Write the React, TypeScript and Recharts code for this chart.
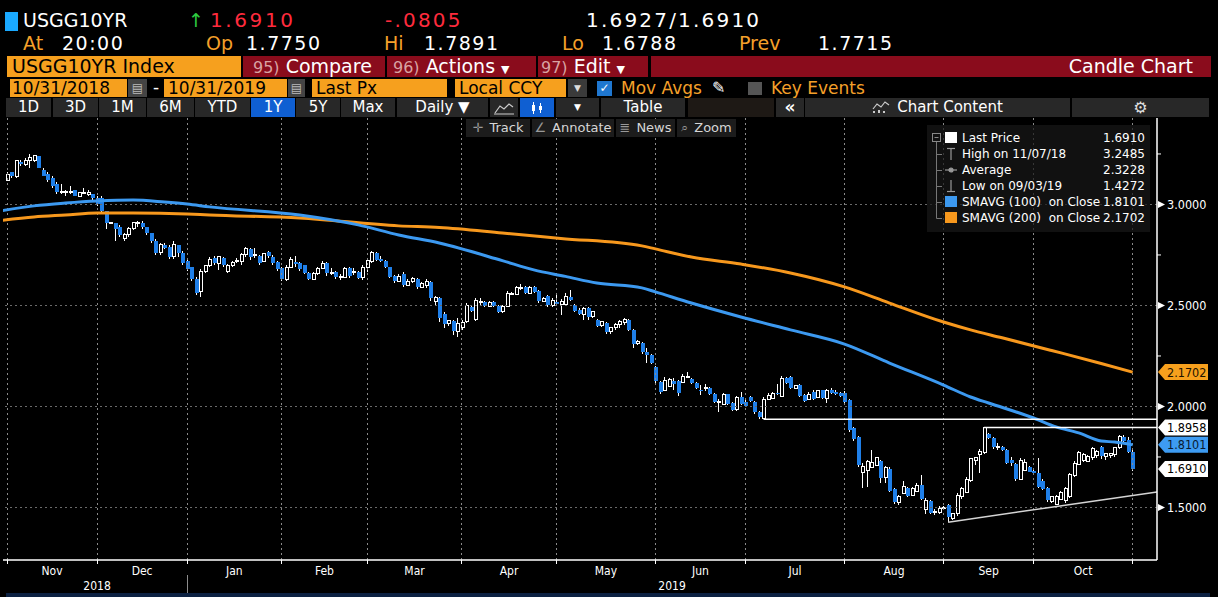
import { ComposedChart, Bar, Line, XAxis, YAxis, ReferenceLine } from 'recharts';

// [open, high, low, close], one array per month
type Candle = [number, number, number, number];

const oct2018: Candle[] = [[3.12, 3.16, 3.12, 3.15]];
const nov2018: Candle[] = [
  [3.16, 3.16, 3.13, 3.14], [3.14, 3.22, 3.13, 3.22], [3.21, 3.22, 3.19, 3.2], [3.2, 3.23, 3.19, 3.22],
  [3.22, 3.2485, 3.18, 3.23], [3.22, 3.24, 3.21, 3.24], [3.24, 3.24, 3.18, 3.18], [3.17, 3.18, 3.14, 3.14],
  [3.15, 3.16, 3.11, 3.12], [3.13, 3.14, 3.08, 3.09], [3.1, 3.11, 3.05, 3.06], [3.06, 3.1, 3.05, 3.063],
  [3.06, 3.07, 3.04, 3.062], [3.06, 3.09, 3.05, 3.065], [3.07, 3.07, 3.04, 3.04], [3.04, 3.06, 3.035, 3.06],
  [3.055, 3.08, 3.05, 3.06], [3.05, 3.07, 3.04, 3.06], [3.05, 3.05, 3.02, 3.03], [3.03, 3.04, 2.99, 3.0],
];
const dec2018: Candle[] = [
  [3.03, 3.04, 2.96, 2.97], [2.97, 2.97, 2.88, 2.91], [2.91, 2.915, 2.905, 2.912], [2.91, 2.91, 2.82, 2.88],
  [2.89, 2.9, 2.84, 2.85], [2.83, 2.86, 2.82, 2.85], [2.85, 2.89, 2.84, 2.88], [2.88, 2.91, 2.875, 2.91],
  [2.905, 2.92, 2.89, 2.91], [2.91, 2.92, 2.88, 2.89], [2.89, 2.89, 2.85, 2.86], [2.86, 2.86, 2.81, 2.82],
  [2.82, 2.83, 2.75, 2.76], [2.76, 2.81, 2.75, 2.8], [2.8, 2.81, 2.78, 2.785], [2.79, 2.8, 2.73, 2.74],
  [2.74, 2.82, 2.73, 2.8], [2.8, 2.8, 2.74, 2.76], [2.76, 2.77, 2.7, 2.71], [2.72, 2.73, 2.67, 2.68],
];
const jan2019: Candle[] = [
  [2.69, 2.69, 2.62, 2.63], [2.63, 2.64, 2.55, 2.56], [2.57, 2.68, 2.54, 2.67], [2.67, 2.7, 2.66, 2.7],
  [2.7, 2.74, 2.69, 2.73], [2.735, 2.745, 2.7, 2.71], [2.71, 2.745, 2.675, 2.74], [2.735, 2.74, 2.69, 2.7],
  [2.67, 2.705, 2.66, 2.7], [2.7, 2.72, 2.69, 2.715], [2.72, 2.735, 2.71, 2.725], [2.72, 2.76, 2.7, 2.75],
  [2.75, 2.79, 2.74, 2.78], [2.78, 2.785, 2.725, 2.74], [2.745, 2.785, 2.735, 2.75], [2.745, 2.75, 2.7, 2.71],
  [2.72, 2.76, 2.715, 2.755], [2.765, 2.77, 2.735, 2.745], [2.74, 2.75, 2.7, 2.71], [2.715, 2.72, 2.67, 2.68],
  [2.685, 2.69, 2.62, 2.63],
];
const feb2019: Candle[] = [
  [2.63, 2.7, 2.62, 2.69], [2.69, 2.74, 2.685, 2.73], [2.715, 2.745, 2.69, 2.705], [2.71, 2.715, 2.67, 2.68],
  [2.7, 2.7, 2.655, 2.66], [2.66, 2.665, 2.625, 2.63], [2.63, 2.665, 2.625, 2.66], [2.66, 2.69, 2.65, 2.685],
  [2.685, 2.72, 2.68, 2.71], [2.71, 2.715, 2.645, 2.66], [2.66, 2.685, 2.65, 2.665], [2.665, 2.67, 2.63, 2.64],
  [2.64, 2.655, 2.625, 2.645], [2.64, 2.69, 2.635, 2.685], [2.685, 2.69, 2.635, 2.645], [2.665, 2.685, 2.65, 2.67],
  [2.665, 2.67, 2.63, 2.635], [2.64, 2.7, 2.625, 2.69], [2.69, 2.735, 2.665, 2.725],
];
const mar2019: Candle[] = [
  [2.72, 2.77, 2.71, 2.76], [2.76, 2.765, 2.72, 2.725], [2.73, 2.745, 2.715, 2.72], [2.72, 2.725, 2.685, 2.69],
  [2.69, 2.69, 2.635, 2.64], [2.645, 2.65, 2.61, 2.62], [2.62, 2.655, 2.615, 2.645], [2.655, 2.665, 2.59, 2.6],
  [2.6, 2.63, 2.595, 2.62], [2.62, 2.64, 2.61, 2.635], [2.63, 2.635, 2.58, 2.59], [2.59, 2.615, 2.585, 2.61],
  [2.6, 2.63, 2.585, 2.62], [2.615, 2.62, 2.52, 2.535], [2.52, 2.545, 2.5, 2.54], [2.535, 2.54, 2.42, 2.44],
  [2.46, 2.47, 2.39, 2.41], [2.41, 2.43, 2.4, 2.425], [2.425, 2.43, 2.355, 2.375], [2.37, 2.44, 2.345, 2.41],
  [2.39, 2.43, 2.38, 2.415],
];
const apr2019: Candle[] = [
  [2.42, 2.51, 2.415, 2.5], [2.49, 2.495, 2.47, 2.475], [2.43, 2.535, 2.425, 2.525], [2.515, 2.535, 2.495, 2.52],
  [2.515, 2.52, 2.49, 2.495], [2.495, 2.52, 2.49, 2.515], [2.515, 2.52, 2.49, 2.495], [2.495, 2.5, 2.465, 2.47],
  [2.47, 2.5, 2.465, 2.495], [2.495, 2.57, 2.49, 2.56], [2.555, 2.565, 2.55, 2.56], [2.555, 2.595, 2.55, 2.59],
  [2.585, 2.605, 2.575, 2.59], [2.59, 2.595, 2.555, 2.56], [2.56, 2.595, 2.555, 2.59], [2.59, 2.595, 2.56, 2.565],
  [2.57, 2.575, 2.51, 2.52], [2.52, 2.54, 2.515, 2.535], [2.545, 2.55, 2.49, 2.5], [2.5, 2.535, 2.49, 2.525],
  [2.515, 2.555, 2.5, 2.505],
];
const may2019: Candle[] = [
  [2.505, 2.53, 2.455, 2.52], [2.505, 2.56, 2.5, 2.545], [2.54, 2.575, 2.52, 2.525], [2.5, 2.505, 2.47, 2.475],
  [2.48, 2.485, 2.455, 2.46], [2.455, 2.49, 2.43, 2.485], [2.485, 2.49, 2.43, 2.445], [2.445, 2.475, 2.44, 2.47],
  [2.43, 2.435, 2.395, 2.4], [2.4, 2.425, 2.395, 2.42], [2.415, 2.42, 2.36, 2.37], [2.37, 2.395, 2.36, 2.39],
  [2.39, 2.415, 2.38, 2.405], [2.405, 2.43, 2.39, 2.42], [2.415, 2.44, 2.405, 2.43], [2.43, 2.435, 2.375, 2.38],
  [2.38, 2.385, 2.29, 2.31], [2.31, 2.33, 2.305, 2.32], [2.315, 2.32, 2.26, 2.27], [2.27, 2.29, 2.215, 2.255],
  [2.255, 2.26, 2.21, 2.215], [2.195, 2.2, 2.115, 2.125],
];
const jun2019: Candle[] = [
  [2.12, 2.125, 2.06, 2.07], [2.08, 2.145, 2.075, 2.13], [2.1, 2.14, 2.095, 2.135], [2.128, 2.14, 2.08, 2.11],
  [2.125, 2.13, 2.05, 2.065], [2.12, 2.16, 2.115, 2.15], [2.145, 2.172, 2.14, 2.148], [2.135, 2.14, 2.11, 2.115],
  [2.118, 2.12, 2.085, 2.09], [2.083, 2.106, 2.057, 2.078], [2.09, 2.11, 2.078, 2.096], [2.09, 2.095, 2.055, 2.06],
  [2.06, 2.065, 2.015, 2.02], [2.02, 2.035, 1.975, 2.025], [2.01, 2.065, 2.005, 2.06], [2.06, 2.062, 2.005, 2.01],
  [2.015, 2.02, 1.98, 1.985], [1.985, 2.05, 1.98, 2.045], [2.045, 2.07, 2.005, 2.01], [2.02, 2.03, 1.998, 2.003],
];
const jul2019: Candle[] = [
  [2.045, 2.05, 2.02, 2.025], [2.02, 2.025, 1.965, 1.975], [1.975, 1.98, 1.94, 1.95], [1.94, 2.045, 1.9367, 2.035],
  [2.035, 2.065, 2.03, 2.055], [2.04, 2.07, 2.035, 2.065], [2.065, 2.11, 2.055, 2.06], [2.05, 2.15, 2.045, 2.14],
  [2.14, 2.145, 2.11, 2.115], [2.145, 2.15, 2.085, 2.09], [2.088, 2.106, 2.085, 2.104], [2.105, 2.11, 2.045, 2.05],
  [2.055, 2.06, 2.02, 2.025], [2.035, 2.07, 2.03, 2.06], [2.07, 2.08, 2.03, 2.035], [2.045, 2.082, 2.04, 2.08],
  [2.08, 2.082, 2.035, 2.04], [2.04, 2.085, 2.015, 2.08], [2.08, 2.09, 2.06, 2.065], [2.072, 2.08, 2.055, 2.06],
  [2.065, 2.07, 2.045, 2.05], [2.065, 2.075, 2.01, 2.02],
];
const aug2019: Candle[] = [
  [2.03, 2.035, 1.875, 1.885], [1.895, 1.9, 1.83, 1.84], [1.85, 1.855, 1.7, 1.71], [1.675, 1.72, 1.595, 1.705],
  [1.685, 1.735, 1.6, 1.73], [1.7, 1.787, 1.695, 1.722], [1.71, 1.752, 1.705, 1.745], [1.73, 1.735, 1.62, 1.645],
  [1.65, 1.705, 1.62, 1.7], [1.69, 1.7, 1.575, 1.58], [1.59, 1.595, 1.515, 1.525], [1.525, 1.56, 1.51, 1.555],
  [1.57, 1.63, 1.565, 1.605], [1.595, 1.6, 1.55, 1.555], [1.56, 1.6, 1.555, 1.595], [1.58, 1.62, 1.575, 1.61],
  [1.61, 1.66, 1.535, 1.54], [1.49, 1.545, 1.47, 1.535], [1.53, 1.535, 1.47, 1.475], [1.48, 1.49, 1.462, 1.482],
  [1.475, 1.505, 1.468, 1.495], [1.497, 1.505, 1.49, 1.5],
];
const sep2019: Candle[] = [
  [1.51, 1.515, 1.4272, 1.455], [1.445, 1.475, 1.44, 1.47], [1.47, 1.57, 1.46, 1.56], [1.555, 1.6, 1.54, 1.595],
  [1.575, 1.65, 1.57, 1.64], [1.635, 1.745, 1.625, 1.74], [1.735, 1.752, 1.71, 1.745], [1.76, 1.79, 1.672, 1.778],
  [1.77, 1.8958, 1.765, 1.895], [1.865, 1.87, 1.84, 1.845], [1.845, 1.85, 1.79, 1.8], [1.8, 1.82, 1.785, 1.802],
  [1.8, 1.805, 1.78, 1.783], [1.785, 1.79, 1.715, 1.72], [1.735, 1.75, 1.705, 1.722], [1.715, 1.72, 1.63, 1.64],
  [1.64, 1.745, 1.635, 1.735], [1.685, 1.74, 1.68, 1.725], [1.7, 1.705, 1.675, 1.678], [1.68, 1.69, 1.665, 1.67],
];
const oct2019: Candle[] = [
  [1.67, 1.745, 1.595, 1.6], [1.63, 1.64, 1.585, 1.59], [1.595, 1.6, 1.525, 1.535], [1.53, 1.557, 1.52, 1.555],
  [1.515, 1.562, 1.51, 1.555], [1.54, 1.58, 1.535, 1.575], [1.535, 1.6, 1.52, 1.595], [1.555, 1.67, 1.545, 1.665],
  [1.66, 1.73, 1.65, 1.72], [1.715, 1.78, 1.71, 1.77], [1.735, 1.77, 1.725, 1.76], [1.73, 1.76, 1.725, 1.75],
  [1.745, 1.8, 1.735, 1.79], [1.755, 1.785, 1.745, 1.775], [1.8, 1.805, 1.74, 1.755], [1.75, 1.77, 1.735, 1.765],
  [1.755, 1.77, 1.745, 1.765], [1.76, 1.8, 1.75, 1.795], [1.795, 1.86, 1.79, 1.85], [1.85, 1.86, 1.825, 1.83],
  [1.835, 1.85, 1.77, 1.775], [1.775, 1.7891, 1.6788, 1.691],
];

// first entry is the lone 31 Oct 2018 bar, the rest are the labelled months
const candleMonths = [oct2018, nov2018, dec2018, jan2019, feb2019, mar2019, apr2019, may2019, jun2019, jul2019, aug2019, sep2019, oct2019];
const monthLabels = ['Nov', 'Dec', 'Jan', 'Feb', 'Mar', 'Apr', 'May', 'Jun', 'Jul', 'Aug', 'Sep', 'Oct'];
const yearLabels = ['2018', '2019'];
const yearFirstMonth = [0, 2];

// moving averages: [bar index, value]
const sma100: [number, number][] = [
  [-1, 2.97], [6, 2.993], [13, 3.007], [20, 3.017], [28, 3.022], [35, 3.012], [40, 3.002], [45, 2.988],
  [65, 2.948], [78, 2.899], [87, 2.849], [96, 2.809], [110, 2.722], [117, 2.676], [124, 2.644], [131, 2.611],
  [141, 2.587], [144, 2.567], [152, 2.512], [163, 2.443], [174, 2.379], [186, 2.309], [196, 2.215], [208, 2.106],
  [214, 2.047], [218, 2.017], [228, 1.943], [233, 1.899], [238, 1.869], [243, 1.829], [246, 1.824], [250, 1.81],
];
const sma200: [number, number][] = [
  [-1, 2.922], [6, 2.938], [13, 2.948], [20, 2.958], [28, 2.958], [40, 2.953], [45, 2.948], [65, 2.933],
  [87, 2.894], [96, 2.886], [110, 2.859], [123, 2.832], [141, 2.795], [144, 2.78], [152, 2.74], [163, 2.705],
  [174, 2.661], [186, 2.592], [196, 2.512], [208, 2.418], [214, 2.379], [221, 2.34], [232, 2.277], [243, 2.213],
  [250, 2.17],
];

// drawn annotations: [start bar, level] and trend line end points
const levelLines: [number, number][] = [[168, 1.9367], [217, 1.8958]];
const trendLine: [number, number][] = [[209, 1.4272], [255.4, 1.577]];

const majorLevels = [1.5, 2.0, 2.5, 3.0];
const minorLevels = [1.75, 2.25, 2.75, 3.25];
const priceFlags = [
  { value: 2.1702, fill: '#f7a01d', text: '#1c1200' },
  { value: 1.8958, fill: '#ffffff', text: '#000000' },
  { value: 1.8101, fill: '#3d9bf2', text: '#0a1a30' },
  { value: 1.691, fill: '#ffffff', text: '#000000' },
];

const legendRows = [
  { icon: 'box', color: '#ffffff', label: 'Last Price', value: '1.6910' },
  { icon: 'high', color: '#9a9a9a', label: 'High on 11/07/18', value: '3.2485' },
  { icon: 'avg', color: '#9a9a9a', label: 'Average', value: '2.3228' },
  { icon: 'low', color: '#9a9a9a', label: 'Low on 09/03/19', value: '1.4272' },
  { icon: 'box', color: '#3c99f0', label: 'SMAVG (100)  on Close', value: '1.8101' },
  { icon: 'box', color: '#f7981d', label: 'SMAVG (200)  on Close', value: '2.1702' },
];

const X_MIN = -0.89;
const X_MAX = 255.4;
const Y_MIN = 1.24;
const Y_MAX = 3.428;

const DOWN = '#1f7fe8';
const SMA100_COLOR = '#3c99f0';
const SMA200_COLOR = '#f7981d';
const GRID = '#6a6a6a';
const VGRID = '#8a8a8a';
const ORANGE = '#f6a01e';
const ORANGE_TEXT = '#f5a02a';
const RED = '#8a0c1c';
const SANS = "'DejaVu Sans', sans-serif";
const NARROW = "'DejaVu Sans Condensed', 'DejaVu Sans', sans-serif";

const candles = candleMonths.flat().map(([o, h, l, c], i) => ({ i, o, h, l, c }));
let acc = -1;
const monthEnds = candleMonths.map((m) => (acc += m.length));
const monthMids = monthLabels.map((_, k) => (monthEnds[k] + monthEnds[k + 1]) / 2);
const yearMids = yearFirstMonth.map((m, k) => {
  const end = k + 1 < yearFirstMonth.length ? monthEnds[yearFirstMonth[k + 1]] : X_MAX;
  return (monthEnds[m] + end) / 2;
});
const sma100Data = sma100.map(([i, v]) => ({ i, v }));
const sma200Data = sma200.map(([i, v]) => ({ i, v }));
const yTicks = [...majorLevels, ...minorLevels, ...priceFlags.map((f) => f.value)];

function CandleShape(props: any) {
  const { x, y, width, height, payload } = props;
  if (x == null || y == null || !payload) return null;
  const { o, h, l, c } = payload;
  const top = Math.min(y, y + height);
  const span = Math.abs(height);
  const k = h > l ? span / (h - l) : 0;
  const cx = Math.round(x + width / 2);
  const yTop = top + (h - Math.max(o, c)) * k;
  const yBot = top + (h - Math.min(o, c)) * k;
  const bodyH = Math.max(yBot - yTop, 1);
  const up = c >= o;
  return (
    <g shapeRendering="crispEdges">
      <line x1={cx + 0.5} x2={cx + 0.5} y1={top} y2={top + span} stroke="#fff" strokeWidth={1} />
      {up ? (
        <rect x={cx - 1} y={yTop} width={3} height={bodyH} fill="#000" stroke="#fff" strokeWidth={1} />
      ) : (
        <rect x={cx - 1.5} y={yTop} width={4} height={bodyH} fill={DOWN} />
      )}
    </g>
  );
}

function PriceTick(props: any) {
  const { x, y, payload } = props;
  const v = payload?.value;
  const flag = priceFlags.find((f) => Math.abs(f.value - v) < 1e-6);
  if (flag) {
    return (
      <g>
        <polygon
          points={`${x + 1},${y} ${x + 8},${y - 8} ${x + 51},${y - 8} ${x + 51},${y + 8} ${x + 8},${y + 8}`}
          fill={flag.fill}
        />
        <text x={x + 10} y={y + 4.5} fill={flag.text} fontSize={12.5} style={{ fontFamily: NARROW, fontStretch: 'condensed' }}>
          {flag.value.toFixed(4)}
        </text>
      </g>
    );
  }
  if (majorLevels.some((m) => Math.abs(m - v) < 1e-6)) {
    return (
      <g>
        <polygon points={`${x + 1},${y - 3.5} ${x + 8},${y} ${x + 1},${y + 3.5}`} fill="#fff" />
        <text x={x + 10} y={y + 4.5} fill="#fff" fontSize={12.5} style={{ fontFamily: NARROW, fontStretch: 'condensed' }}>
          {v.toFixed(4)}
        </text>
      </g>
    );
  }
  return <line x1={x} x2={x + 4} y1={y} y2={y} stroke="#fff" />;
}

function BoundaryMark(props: any) {
  const vb = props.viewBox;
  if (!vb) return null;
  const yb = vb.y + vb.height;
  return <line x1={vb.x} x2={vb.x} y1={yb} y2={yb + 4} stroke="#fff" shapeRendering="crispEdges" />;
}

function YearText(props: any) {
  const vb = props.viewBox;
  if (!vb) return null;
  return (
    <text x={vb.x} y={vb.y + vb.height + 30} fill="#fff" fontSize={12} textAnchor="middle" style={{ fontFamily: NARROW, fontStretch: 'condensed' }}>
      {props.text}
    </text>
  );
}

function YearSeparator(props: any) {
  const vb = props.viewBox;
  if (!vb) return null;
  const yb = vb.y + vb.height;
  return <line x1={vb.x} x2={vb.x} y1={yb + 15} y2={yb + 37} stroke="#8c8c8c" shapeRendering="crispEdges" />;
}

function Txt({ x, y, color = '#fff', size = 20, h = 24, ls = 0, children }: any) {
  return (
    <div
      style={{
        position: 'absolute', left: x, top: y, height: h, lineHeight: `${h}px`, color, fontSize: size,
        letterSpacing: ls, whiteSpace: 'pre', fontFamily: SANS,
      }}
    >
      {children}
    </div>
  );
}

function Box({ x, y, w, h, bg, children, color = '#fff', size = 16, align = 'center', pad = 0 }: any) {
  return (
    <div
      style={{
        position: 'absolute', left: x, top: y, width: w, height: h, background: bg, color, fontSize: size,
        lineHeight: `${h}px`, textAlign: align, paddingLeft: pad, boxSizing: 'border-box', whiteSpace: 'pre',
        fontFamily: SANS, overflow: 'hidden',
      }}
    >
      {children}
    </div>
  );
}

function LegendIcon({ type, color }: { type: string; color: string }) {
  if (type === 'box') return <rect x={0} y={2} width={12} height={11} fill={color} />;
  if (type === 'high')
    return (
      <g stroke={color} strokeWidth={1.2}>
        <line x1={2} x2={10} y1={2.5} y2={2.5} />
        <line x1={6} x2={6} y1={2.5} y2={14} />
      </g>
    );
  if (type === 'low')
    return (
      <g stroke={color} strokeWidth={1.2}>
        <line x1={2} x2={10} y1={13.5} y2={13.5} />
        <line x1={6} x2={6} y1={2} y2={13.5} />
      </g>
    );
  return (
    <g stroke={color} strokeWidth={1.2}>
      <line x1={0} x2={12} y1={8} y2={8} />
      <circle cx={6} cy={8} r={2} fill={color} />
    </g>
  );
}

export default function App() {
  const rangeButtons: [string, number, number][] = [
    ['1D', 6, 51], ['3D', 53, 98], ['1M', 99, 146], ['6M', 147, 194], ['YTD', 195, 250],
    ['1Y', 251, 295], ['5Y', 296, 340], ['Max', 341, 395],
  ];
  const chartTools: [string, string, number, number][] = [
    ['\u271B', 'Track', 466, 530], ['\u2220', 'Annotate', 532, 614], ['\u2263', 'News', 616, 675], ['\u2315', 'Zoom', 677, 736],
  ];

  return (
    <div style={{ position: 'absolute', left: 0, top: 0, width: 1218, height: 597, background: '#000', overflow: 'hidden', fontFamily: SANS }}>
      <div style={{ position: 'absolute', left: 0, top: 0 }}>
        <ComposedChart width={1218} height={597} data={candles} margin={{ top: 118, right: 0, bottom: 0, left: 3 }}>
          <XAxis
            xAxisId="x"
            dataKey="i"
            type="number"
            domain={[X_MIN, X_MAX]}
            allowDataOverflow
            ticks={monthMids}
            interval={0}
            tickFormatter={(v: number) => monthLabels[monthMids.indexOf(v)] ?? ''}
            tick={{ fill: '#fff', fontSize: 12, fontFamily: NARROW, fontStretch: 'condensed' } as any}
            tickLine={false}
            tickSize={0}
            tickMargin={6}
            axisLine={{ stroke: '#fff', strokeWidth: 1.5 }}
            height={37}
          />
          <YAxis
            yAxisId="y"
            orientation="right"
            type="number"
            domain={[Y_MIN, Y_MAX]}
            allowDataOverflow
            ticks={yTicks}
            interval={0}
            tick={<PriceTick />}
            tickLine={false}
            tickSize={0}
            tickMargin={0}
            axisLine={{ stroke: '#fff', strokeWidth: 1.5 }}
            width={61}
          />

          {majorLevels.map((v) => (
            <ReferenceLine key={`h${v}`} xAxisId="x" yAxisId="y" y={v} stroke={GRID} strokeDasharray="2 3" shapeRendering="crispEdges" />
          ))}
          {monthEnds.map((b) => (
            <ReferenceLine
              key={`v${b}`}
              xAxisId="x"
              yAxisId="y"
              x={b}
              stroke={VGRID}
              strokeWidth={1}
              strokeDasharray="2 3"
              shapeRendering="crispEdges"
              label={<BoundaryMark />}
            />
          ))}
          {yearMids.map((m, k) => (
            <ReferenceLine key={`y${k}`} xAxisId="x" yAxisId="y" x={m} stroke="#000" strokeOpacity={0} label={<YearText text={yearLabels[k]} />} />
          ))}
          <ReferenceLine xAxisId="x" yAxisId="y" x={monthEnds[yearFirstMonth[1]]} stroke="#000" strokeOpacity={0} label={<YearSeparator />} />

          <Line xAxisId="x" yAxisId="y" data={sma200Data} dataKey="v" type="monotone" stroke={SMA200_COLOR} strokeWidth={3} dot={false} activeDot={false} isAnimationActive={false} />
          <Line xAxisId="x" yAxisId="y" data={sma100Data} dataKey="v" type="monotone" stroke={SMA100_COLOR} strokeWidth={3} dot={false} activeDot={false} isAnimationActive={false} />

          <Bar xAxisId="x" yAxisId="y" dataKey={(d: any) => [d.l, d.h]} shape={CandleShape} barSize={4} isAnimationActive={false} />

          {levelLines.map(([start, level]) => (
            <ReferenceLine
              key={`l${start}`}
              xAxisId="x"
              yAxisId="y"
              segment={[{ x: start, y: level }, { x: X_MAX, y: level }]}
              stroke="#fff"
              strokeWidth={1.5}
            />
          ))}
          <ReferenceLine
            xAxisId="x"
            yAxisId="y"
            segment={trendLine.map(([x, y]) => ({ x, y }))}
            stroke="#d4d4d4"
            strokeWidth={1.5}
          />
        </ComposedChart>
      </div>

      {/* quote header */}
      <div style={{ position: 'absolute', left: 5, top: 12, width: 13, height: 19, background: '#1aa9ff' }} />
      <Txt x={23} y={8} size={19}>USGG10YR</Txt>
      <Txt x={188} y={8} size={19} color="#2ecc40">{'\u2191'}</Txt>
      <Txt x={210} y={8} size={20} ls={2.6} color="#ff2b3d">1.6910</Txt>
      <Txt x={385} y={8} size={20} ls={2.2} color="#ff2b3d">-.0805</Txt>
      <Txt x={586} y={8} size={20} ls={2.2}>1.6927/1.6910</Txt>

      <Txt x={23} y={31} size={19} color={ORANGE_TEXT}>At</Txt>
      <Txt x={62} y={31} size={19} ls={1.5}>20:00</Txt>
      <Txt x={206} y={31} size={19} color={ORANGE_TEXT}>Op</Txt>
      <Txt x={246} y={31} size={19} ls={1.5}>1.7750</Txt>
      <Txt x={384} y={31} size={19} color={ORANGE_TEXT}>Hi</Txt>
      <Txt x={424} y={31} size={19} ls={1.5}>1.7891</Txt>
      <Txt x={562} y={31} size={19} color={ORANGE_TEXT}>Lo</Txt>
      <Txt x={602} y={31} size={19} ls={1.5}>1.6788</Txt>
      <Txt x={739} y={31} size={19} color={ORANGE_TEXT}>Prev</Txt>
      <Txt x={818} y={31} size={19} ls={1.5}>1.7715</Txt>

      {/* function bar */}
      <Box x={7} y={56} w={234} h={21} bg={ORANGE} color="#000" size={19} align="left" pad={5}>USGG10YR Index</Box>
      <Box x={243} y={56} w={142} h={21} bg={RED} size={19} align="left" pad={10}>
        <span style={{ color: '#d9a3a3', fontSize: 16 }}>95)</span> Compare
      </Box>
      <Box x={387} y={56} w={149} h={21} bg={RED} size={19} align="left" pad={6}>
        <span style={{ color: '#d9a3a3', fontSize: 16 }}>96)</span> Actions <span style={{ fontSize: 11 }}>{'\u25BC'}</span>
      </Box>
      <Box x={538} y={56} w={110} h={21} bg={RED} size={19} align="left" pad={3}>
        <span style={{ color: '#d9a3a3', fontSize: 16 }}>97)</span> Edit <span style={{ fontSize: 11 }}>{'\u25BC'}</span>
      </Box>
      <Box x={651} y={56} w={560} h={21} bg={RED} size={19} align="right">
        <span style={{ paddingRight: 18 }}>Candle Chart</span>
      </Box>

      {/* date / field row */}
      <Box x={10} y={79} w={117} h={18} bg={ORANGE} color="#000" size={17} align="left" pad={2}>10/31/2018</Box>
      <Box x={128} y={79} w={19} h={18} bg="#444" color="#bbb" size={12}>{'\u25A4'}</Box>
      <Txt x={153} y={76} size={17} h={22}>-</Txt>
      <Box x={164} y={79} w={123} h={18} bg={ORANGE} color="#000" size={17} align="left" pad={4}>10/31/2019</Box>
      <Box x={288} y={79} w={17} h={18} bg="#444" color="#bbb" size={12}>{'\u25A4'}</Box>
      <Box x={312} y={79} w={135} h={18} bg={ORANGE} color="#000" size={17} align="left" pad={4}>Last Px</Box>
      <Box x={455} y={79} w={111} h={18} bg={ORANGE} color="#000" size={17} align="left" pad={4}>Local CCY</Box>
      <Box x={568} y={79} w={19} h={18} bg="#3a3a3a" color="#ddd" size={9}>{'\u25BC'}</Box>
      <Box x={597} y={81} w={15} h={15} bg="#1f77d0" color="#fff" size={12}>{'\u2713'}</Box>
      <Txt x={621} y={77} size={17} h={22} color={ORANGE_TEXT}>Mov Avgs</Txt>
      <Txt x={712} y={77} size={16} h={22}>{'\u270E'}</Txt>
      <div style={{ position: 'absolute', left: 748, top: 82, width: 14, height: 13, background: '#555' }} />
      <Txt x={771} y={77} size={17} h={22} color={ORANGE_TEXT}>Key Events</Txt>

      {/* range buttons */}
      {rangeButtons.map(([t, a, b]) => (
        <Box key={t} x={a} y={98} w={b - a} h={19} bg={t === '1Y' ? '#0f5fd2' : '#282828'} size={15}>{t}</Box>
      ))}
      <Box x={397} y={98} w={91} h={19} bg="#282828" size={15}>{'Daily \u25BC'}</Box>
      <Box x={490} y={98} w={28} h={19} bg="#282828">
        <svg width={20} height={14} style={{ marginTop: 3 }}>
          <polyline points="1,12 6,5 10,8 15,3 19,6" fill="none" stroke="#ccc" strokeWidth={1.2} />
          <line x1={0} x2={20} y1={13} y2={13} stroke="#ccc" />
        </svg>
      </Box>
      <Box x={520} y={98} w={34} h={19} bg="#0f5fd2">
        <svg width={16} height={14} style={{ marginTop: 3 }}>
          <line x1={4.5} x2={4.5} y1={1} y2={13} stroke="#fff" />
          <rect x={3} y={4} width={3} height={6} fill="#fff" />
          <line x1={11.5} x2={11.5} y1={2} y2={12} stroke="#fff" />
          <rect x={10} y={5} width={3} height={4} fill="#fff" />
        </svg>
      </Box>
      <Box x={556} y={98} w={43} h={19} bg="#282828" size={9}>{'\u25BC'}</Box>
      <Box x={601} y={98} w={84} h={19} bg="#282828" size={15}>Table</Box>
      <Box x={688} y={98} w={86} h={19} bg="#1e1915" />
      <Box x={776} y={98} w={28} h={19} bg="#282828" size={17}><b>{'\u00AB'}</b></Box>
      <Box x={805} y={98} w={265} h={19} bg="#282828" size={15}>
        <svg width={18} height={13} style={{ marginRight: 7, verticalAlign: -1 }}>
          <polyline points="1,9 5,4 9,7 13,2 17,5" fill="none" stroke="#ccc" strokeWidth={1.2} />
          <line x1={2} x2={2} y1={11} y2={13} stroke="#ccc" strokeWidth={2} />
          <line x1={7} x2={7} y1={10} y2={13} stroke="#ccc" strokeWidth={2} />
          <line x1={12} x2={12} y1={11} y2={13} stroke="#ccc" strokeWidth={2} />
        </svg>
        Chart Content
      </Box>
      <Box x={1072} y={98} w={137} h={19} bg="#282828" color="#ddd" size={16}>{'\u2699'}</Box>

      {/* in-chart tools */}
      {chartTools.map(([icon, t, a, b]) => (
        <Box key={t} x={a} y={119} w={b - a} h={18} bg="#1c1c1c" color="#d6d6d6" size={13}>
          <span style={{ color: '#999', marginRight: 6 }}>{icon}</span>
          {t}
        </Box>
      ))}

      {/* legend */}
      <div style={{ position: 'absolute', left: 927, top: 125, width: 223, height: 107, background: 'rgba(24,24,24,0.72)' }}>
        <svg width={223} height={107} style={{ position: 'absolute', left: 0, top: 0 }}>
          <rect x={5.5} y={8.5} width={8} height={8} fill="none" stroke="#888" />
          <line x1={7.5} x2={11.5} y1={12.5} y2={12.5} stroke="#888" />
          <line x1={9.5} x2={9.5} y1={17} y2={93.5} stroke="#777" />
          {legendRows.map((r, k) => (
            <g key={r.label}>
              {k > 0 && <line x1={9.5} x2={15} y1={13 + 16 * k + 0.5} y2={13 + 16 * k + 0.5} stroke="#777" />}
              <g transform={`translate(18, ${5 + 16 * k})`}>
                <LegendIcon type={r.icon} color={r.color} />
              </g>
            </g>
          ))}
        </svg>
        {legendRows.map((r, k) => (
          <div key={r.label} style={{ position: 'absolute', left: 35, top: 5 + 16 * k, width: 183, height: 16, lineHeight: '16px', fontSize: 12, color: '#fff', fontFamily: SANS }}>
            <span style={{ whiteSpace: 'pre' }}>{r.label}</span>
            <span style={{ position: 'absolute', right: 0 }}>{r.value}</span>
          </div>
        ))}
      </div>

      <div style={{ position: 'absolute', left: 6, top: 593, width: 1204, height: 4, background: '#0c2142' }} />
    </div>
  );
}
